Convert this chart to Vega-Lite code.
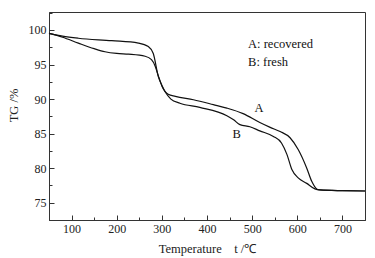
{
  "$schema": "https://vega.github.io/schema/vega-lite/v6.json",
  "width": 316,
  "height": 208,
  "autosize": {"type": "none"},
  "padding": {"left": 49, "top": 12, "right": 10, "bottom": 38},
  "background": "white",
  "config": {
    "font": "Liberation Serif",
    "view": {"stroke": "#333", "strokeWidth": 1},
    "axis": {"labelFont": "Liberation Serif", "titleFont": "Liberation Serif", "labelFontSize": 12, "titleFontSize": 12.5, "titleFontWeight": "normal", "labelColor": "#222", "titleColor": "#222", "domainColor": "#333", "tickColor": "#333", "grid": false}
  },
  "datasets": {
    "tg": [
      {"s": "A", "T": 50, "TG": 99.5}, {"s": "A", "T": 80, "TG": 98.95}, {"s": "A", "T": 115, "TG": 98.1}, {"s": "A", "T": 150, "TG": 97.3},
      {"s": "A", "T": 174, "TG": 96.85}, {"s": "A", "T": 200, "TG": 96.6}, {"s": "A", "T": 226, "TG": 96.5}, {"s": "A", "T": 263, "TG": 96.2},
      {"s": "A", "T": 277, "TG": 95.7}, {"s": "A", "T": 285, "TG": 94.8}, {"s": "A", "T": 292, "TG": 93.4}, {"s": "A", "T": 300, "TG": 91.9},
      {"s": "A", "T": 314, "TG": 90.7}, {"s": "A", "T": 330, "TG": 90.4}, {"s": "A", "T": 370, "TG": 89.9}, {"s": "A", "T": 414, "TG": 89.2},
      {"s": "A", "T": 444, "TG": 88.7}, {"s": "A", "T": 480, "TG": 87.9}, {"s": "A", "T": 517, "TG": 86.6}, {"s": "A", "T": 540, "TG": 85.9},
      {"s": "A", "T": 562, "TG": 85.3}, {"s": "A", "T": 584, "TG": 84.4}, {"s": "A", "T": 602, "TG": 82.7}, {"s": "A", "T": 621, "TG": 80.0},
      {"s": "A", "T": 632, "TG": 78.1}, {"s": "A", "T": 643, "TG": 77.0}, {"s": "A", "T": 650, "TG": 76.85}, {"s": "A", "T": 700, "TG": 76.75},
      {"s": "A", "T": 750, "TG": 76.7},
      {"s": "B", "T": 50, "TG": 99.5}, {"s": "B", "T": 80, "TG": 99.1}, {"s": "B", "T": 115, "TG": 98.8}, {"s": "B", "T": 189, "TG": 98.45},
      {"s": "B", "T": 248, "TG": 98.1}, {"s": "B", "T": 270, "TG": 97.6}, {"s": "B", "T": 281, "TG": 96.6}, {"s": "B", "T": 292, "TG": 93.3},
      {"s": "B", "T": 300, "TG": 92.0}, {"s": "B", "T": 307, "TG": 91.1}, {"s": "B", "T": 320, "TG": 90.0}, {"s": "B", "T": 340, "TG": 89.4},
      {"s": "B", "T": 384, "TG": 88.8}, {"s": "B", "T": 444, "TG": 87.6}, {"s": "B", "T": 459, "TG": 87.0}, {"s": "B", "T": 473, "TG": 86.3},
      {"s": "B", "T": 495, "TG": 86.0}, {"s": "B", "T": 517, "TG": 85.4}, {"s": "B", "T": 547, "TG": 84.6}, {"s": "B", "T": 565, "TG": 83.65},
      {"s": "B", "T": 577, "TG": 82.0}, {"s": "B", "T": 588, "TG": 79.8}, {"s": "B", "T": 602, "TG": 78.6}, {"s": "B", "T": 621, "TG": 77.8},
      {"s": "B", "T": 639, "TG": 77.0}, {"s": "B", "T": 650, "TG": 76.85}, {"s": "B", "T": 700, "TG": 76.75}, {"s": "B", "T": 750, "TG": 76.7}
    ],
    "legend": [
      {"label": "A: recovered", "T": 491, "TG": 97.4},
      {"label": "B: fresh", "T": 491, "TG": 94.8}
    ],
    "curvelabels": [
      {"label": "A", "T": 515, "TG": 88.2},
      {"label": "B", "T": 466, "TG": 84.4}
    ]
  },
  "resolve": {"axis": {"x": "independent", "y": "independent"}},
  "layer": [
    {
      "data": {"name": "tg"},
      "mark": {"type": "line", "interpolate": "monotone", "color": "#111", "strokeWidth": 1.2},
      "encoding": {
        "x": {"field": "T", "type": "quantitative", "scale": {"domain": [50, 750], "nice": false, "zero": false},
          "axis": {"orient": "bottom", "values": [100, 200, 300, 400, 500, 600, 700], "tickSize": -5, "labelPadding": 8, "title": "Temperature\u00a0\u00a0\u00a0\u00a0t\u00a0/℃", "titlePadding": 8}},
        "y": {"field": "TG", "type": "quantitative", "scale": {"domain": [72.5, 102.6], "nice": false, "zero": false},
          "axis": {"orient": "left", "values": [75, 80, 85, 90, 95, 100], "tickSize": -5, "labelPadding": 8, "title": "TG\u00a0/%", "titleX": -29, "titleY": 93}},
        "detail": {"field": "s", "type": "nominal"}
      }
    },
    {
      "data": {"name": "legend"},
      "mark": {"type": "text", "fontSize": 12.5, "font": "Liberation Serif", "color": "#111", "baseline": "alphabetic", "align": "left"},
      "encoding": {
        "x": {"field": "T", "type": "quantitative", "scale": {"domain": [50, 750], "nice": false, "zero": false},
          "axis": {"orient": "bottom", "values": [50, 150, 250, 350, 450, 550, 650, 750], "tickSize": -3, "labels": false, "domain": false, "title": null}},
        "y": {"field": "TG", "type": "quantitative", "scale": {"domain": [72.5, 102.6], "nice": false, "zero": false},
          "axis": {"orient": "left", "values": [77.5, 82.5, 87.5, 92.5, 97.5, 102.5], "tickSize": -3, "labels": false, "domain": false, "title": null}},
        "text": {"field": "label", "type": "nominal"}
      }
    },
    {
      "data": {"name": "curvelabels"},
      "mark": {"type": "text", "fontSize": 12.5, "font": "Liberation Serif", "color": "#111", "baseline": "alphabetic", "align": "center"},
      "encoding": {
        "x": {"field": "T", "type": "quantitative", "scale": {"domain": [50, 750], "nice": false, "zero": false}, "axis": null},
        "y": {"field": "TG", "type": "quantitative", "scale": {"domain": [72.5, 102.6], "nice": false, "zero": false}, "axis": null},
        "text": {"field": "label", "type": "nominal"}
      }
    }
  ]
}
